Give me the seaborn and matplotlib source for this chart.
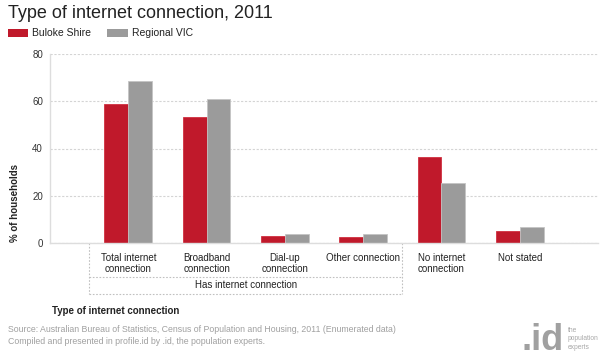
import matplotlib
matplotlib.use("Agg")
import matplotlib.pyplot as plt
import matplotlib.transforms as mtransforms
from matplotlib.patches import Rectangle
import seaborn as sns
import pandas as pd

categories = ["Total internet\nconnection", "Broadband\nconnection", "Dial-up\nconnection",
              "Other connection", "No internet\nconnection", "Not stated"]
buloke = [58.8, 53.2, 3.0, 2.6, 36.5, 5.2]
regional = [68.4, 60.8, 3.8, 4.0, 25.5, 6.6]
series_names = ["Buloke Shire", "Regional VIC"]
colors = ["#C0192B", "#9B9B9B"]
edge_colors = ["#d03040", "#c4c4c4"]
yticks = [0, 20, 40, 60, 80]

sns.set_theme(style="white")
plt.rcParams['font.family'] = ['Liberation Sans', 'DejaVu Sans']

df = pd.DataFrame({
    "cat": categories * 2,
    "val": buloke + regional,
    "series": [series_names[0]] * len(categories) + [series_names[1]] * len(categories),
})

fig = plt.figure(figsize=(6.02, 3.58), dpi=100)
ax = fig.add_axes([50/602, 1-243/358, 548/602, 189/358])

sns.barplot(data=df, x="cat", y="val", hue="series", palette=colors, width=0.61,
            gap=0, saturation=1, ax=ax, legend=False, linewidth=0.6)
n = len(categories)
for i, patch in enumerate(ax.patches):
    patch.set_edgecolor(edge_colors[0] if i < n else edge_colors[1])

ax.set_xlim(-1, 6)
ax.set_ylim(0, 80)
ax.set_yticks(yticks)
ax.set_yticklabels([str(v) for v in yticks], fontsize=7, color="#333333")
ax.set_xticks(range(len(categories)))
ax.set_xticklabels(categories, fontsize=7, color="#222222", linespacing=1.1)
ax.tick_params(axis='x', length=3, color="#cccccc", pad=4, width=0.8)
ax.tick_params(axis='y', length=3, color="#cccccc", pad=2, width=0.8)
ax.set_xlabel("")
ax.set_ylabel("")
for s in ["top", "right"]:
    ax.spines[s].set_visible(False)
ax.spines["left"].set_color("#dddddd")
ax.spines["bottom"].set_color("#dddddd")
ax.spines["left"].set_linewidth(1.0)
ax.spines["bottom"].set_linewidth(1.0)
ax.yaxis.grid(True, linestyle=(0, (2, 1.5)), color="#d4d4d4", linewidth=0.8)
ax.set_axisbelow(True)

# grouping box "Has internet connection"
trans = mtransforms.blended_transform_factory(ax.transData, ax.transAxes)
px = 1/189
kw = dict(transform=trans, clip_on=False, color="#c0c0c0", linestyle=(0, (1.5, 1.5)), linewidth=0.8)
ax.plot([-0.5, -0.5], [0, -51*px], **kw)
ax.plot([3.5, 3.5], [0, -51*px], **kw)
ax.plot([-0.5, 3.5], [-34*px, -34*px], **kw)
ax.plot([-0.5, 3.5], [-51*px, -51*px], **kw)
ax.text(1.5, -42.5*px, "Has internet connection", transform=trans, ha="center", va="center",
        fontsize=7, color="#222222")

# titles
fig.text(8/602, 1-14/358, "Type of internet connection, 2011", fontsize=13, color="#222222",
         va="center", ha="left")
fig.patches.append(Rectangle((8/602, 1-37/358), 20/602, 8/358, transform=fig.transFigure,
                             facecolor=colors[0], edgecolor="none"))
fig.text(32/602, 1-33/358, series_names[0], fontsize=7.5, color="#222222", va="center")
fig.patches.append(Rectangle((107/602, 1-37/358), 21/602, 8/358, transform=fig.transFigure,
                             facecolor=colors[1], edgecolor="none"))
fig.text(132/602, 1-33/358, series_names[1], fontsize=7.5, color="#222222", va="center")

fig.text(15/602, 1-203/358, "% of households", rotation=90, fontsize=7, fontweight="bold",
         color="#222222", va="center", ha="center")
fig.text(52/602, 1-311/358, "Type of internet connection", fontsize=7, fontweight="bold",
         color="#222222", va="center", ha="left")

fig.text(8/602, 1-330/358, "Source: Australian Bureau of Statistics, Census of Population and Housing, 2011 (Enumerated data)",
         fontsize=6.3, color="#a0a0a0", va="center", ha="left")
fig.text(8/602, 1-342/358, "Compiled and presented in profile.id by .id, the population experts.",
         fontsize=6.3, color="#a0a0a0", va="center", ha="left")

# logo
fig.text(522/602, 1-350/358, ".id", fontsize=26, fontweight="bold", color="#a0a0a0",
         va="baseline", ha="left")
fig.text(568/602, 1-339/358, "the\npopulation\nexperts", fontsize=4.8, color="#a8a8a8",
         va="center", ha="left", linespacing=1.3)

fig.savefig("out.png", dpi=100)
